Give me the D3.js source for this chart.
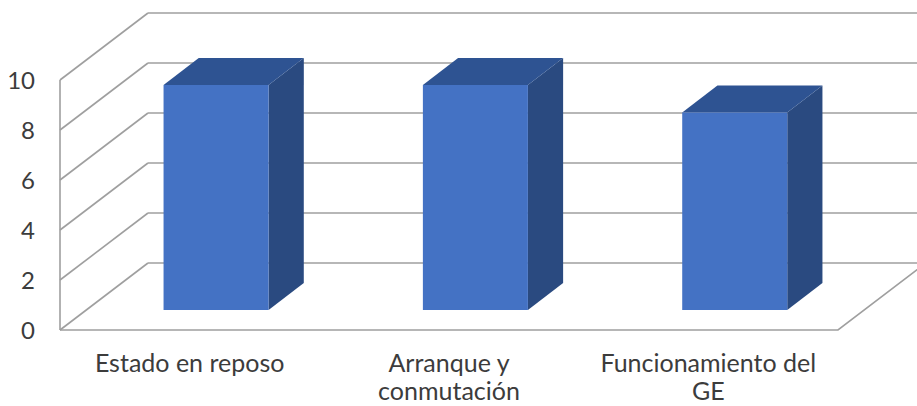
<!DOCTYPE html>
<html>
<head>
<meta charset="utf-8">
<script src="https://cdn.jsdelivr.net/npm/d3@7"></script>
<style>
  html, body { margin: 0; padding: 0; background: #fff; }
  svg { display: block; }
  text { font-family: Lato, "Open Sans", sans-serif; fill: #3c3c3c; }
</style>
</head>
<body>
<svg id="chart" width="917" height="406"></svg>
<script>
// Chart data
const categories = ["Estado en reposo", "Arranque y conmutación", "Funcionamiento del GE"];
const values = [9, 9, 7.9];
const yTicks = [0, 2, 4, 6, 8, 10];

const W = 917, H = 406;
const svg = d3.select("#chart");

// Front plane of the plot box and the oblique depth offset of the 3D box
const front = { left: 60, right: 838, bottom: 330, top: 80 };
const DX = 88, DY = 67;            // full depth shift of the back wall
const zFront = 0.3, zBack = 0.7;   // depth span of each column

const x = d3.scaleBand()
  .domain(categories)
  .range([front.left, front.right])
  .paddingInner(0.595)
  .paddingOuter(0.2975);

const y = d3.scaleLinear().domain([0, 10]).range([front.bottom, front.top]);

// oblique projection: front-plane point moved back by depth z (0..1)
const proj = (px, py, z) => [px + z * DX, py - z * DY];

const gridColor = "#9f9f9f";
const grid = svg.append("g")
  .attr("fill", "none")
  .attr("stroke", gridColor)
  .attr("stroke-width", 1.6);

const line = d3.line();

// back wall gridlines and side wall diagonals
yTicks.forEach(t => {
  const yy = y(t);
  grid.append("path").attr("d", line([proj(front.left, yy, 1), proj(front.right, yy, 1)]));
  grid.append("path").attr("d", line([[front.left, yy], proj(front.left, yy, 1)]));
});

// side wall front edge
grid.append("path").attr("d", line([[front.left, y(0)], [front.left, y(10)]]));
// floor front and right edges
grid.append("path").attr("d", line([
  [front.left, y(0)], [front.right, y(0)], proj(front.right, y(0), 1)
]));

// value axis labels
svg.append("g")
  .selectAll("text")
  .data(yTicks)
  .join("text")
  .attr("x", 35)
  .attr("y", d => y(d))
  .attr("dy", "0.36em")
  .attr("text-anchor", "end")
  .attr("font-size", 24)
  .text(d => d);

// columns
const faceColor = "#4472c4";
const sideColor = "#2a4a80";
const topColor = "#2e5392";

const bars = svg.append("g")
  .selectAll("g")
  .data(categories.map((c, i) => ({ c, v: values[i] })))
  .join("g");

bars.each(function (d) {
  const g = d3.select(this);
  const x0 = x(d.c), x1 = x(d.c) + x.bandwidth();
  const yb = y(0), yt = y(d.v);

  const fBL = proj(x0, yb, zFront), fBR = proj(x1, yb, zFront);
  const fTL = proj(x0, yt, zFront), fTR = proj(x1, yt, zFront);
  const bTL = proj(x0, yt, zBack), bTR = proj(x1, yt, zBack);
  const bBR = proj(x1, yb, zBack);

  g.append("path").attr("d", line([fTR, bTR, bBR, fBR]) + "Z").attr("fill", sideColor);
  g.append("path").attr("d", line([fTL, bTL, bTR, fTR]) + "Z").attr("fill", topColor);
  g.append("path").attr("d", line([fBL, fTL, fTR, fBR]) + "Z").attr("fill", faceColor);
});

// category labels, wrapped to fit under each column
const labelMax = 235;
const labels = svg.append("g")
  .selectAll("text")
  .data(categories)
  .join("text")
  .attr("text-anchor", "middle")
  .attr("font-size", 25)
  .attr("x", d => x(d) + x.bandwidth() / 2)
  .attr("y", 372);

labels.each(function (d) {
  const t = d3.select(this);
  const words = d.split(" ");
  const cx = +t.attr("x");
  let lineWords = [];
  let tspan = t.append("tspan").attr("x", cx).attr("dy", 0);
  words.forEach(w => {
    lineWords.push(w);
    tspan.text(lineWords.join(" "));
    if (tspan.node().getComputedTextLength() > labelMax && lineWords.length > 1) {
      lineWords.pop();
      tspan.text(lineWords.join(" "));
      lineWords = [w];
      tspan = t.append("tspan").attr("x", cx).attr("dy", 28).text(w);
    }
  });
});
</script>
</body>
</html>
